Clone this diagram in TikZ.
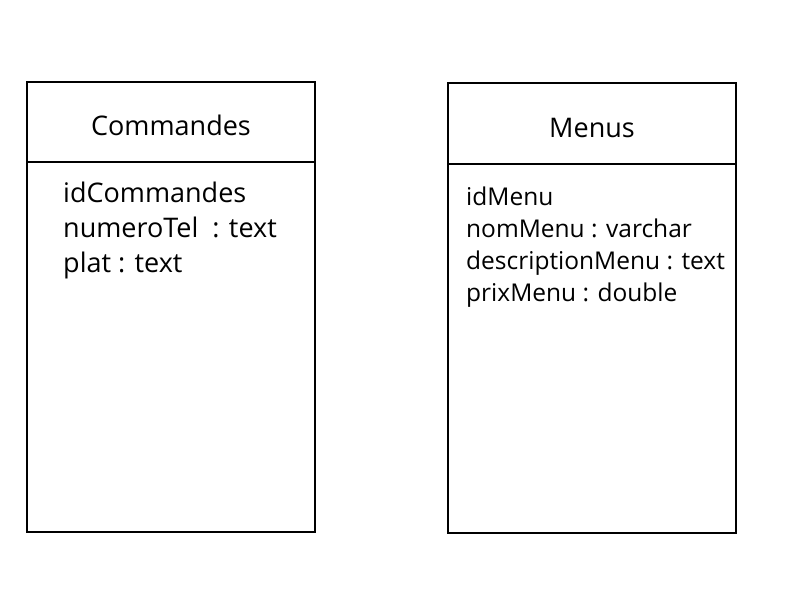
\documentclass[tikz,border=0pt]{standalone}
\usepackage{fontspec}
\setmainfont{Open Sans}
\usetikzlibrary{positioning}

\tikzset{
  titlebox/.style={draw, line width=2pt, minimum width=288pt, minimum height=80pt, inner sep=0pt},
  bodybox/.style={draw, line width=2pt, minimum width=288pt, minimum height=370pt, inner sep=0pt},
  attrs/.style={anchor=north west, align=left, inner sep=0pt}
}

\begin{document}
\begin{tikzpicture}[x=1pt,y=-1pt]
  \useasboundingbox[fill=white] (0,0) rectangle (800,600);

  % Commandes
  \node[titlebox, font=\fontsize{27}{30}\selectfont] (cmdTitle) at (171,122)
    {\raisebox{-3pt}[\height][\depth]{Commandes}};
  \node[bodybox, below=-2pt of cmdTitle] (cmdBody) {};
  \node[attrs, font=\fontsize{27}{35}\selectfont] (cmdAttrs) at (63,182)
    {idCommandes\\numeroTel~~: text\\plat : text};

  % Menus
  \node[titlebox, minimum height=81pt, font=\fontsize{27}{30}\selectfont] (menuTitle) at (592,123.5)
    {\raisebox{-4pt}[\height][\depth]{Menus}};
  \node[bodybox, minimum height=369pt, below=-2pt of menuTitle] (menuBody) {};
  \node[attrs, font=\fontsize{24.5}{32}\selectfont] (menuAttrs) at (466,187)
    {idMenu\\nomMenu : varchar\\descriptionMenu : text\\prixMenu : double};
\end{tikzpicture}
\end{document}
